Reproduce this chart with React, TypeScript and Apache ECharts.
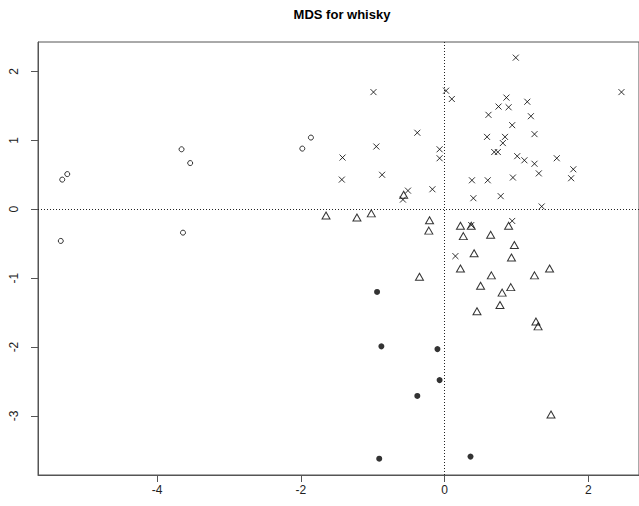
import React, { useEffect, useRef } from "react";
import * as echarts from "echarts";

const title = "MDS for whisky";
const xTicks = [-4, -2, 0, 2];
const yTicks = [-3, -2, -1, 0, 1, 2];

const circles: number[][] = [
  [-5.32, 0.43], [-5.25, 0.51], [-5.34, -0.46], [-3.66, 0.87], [-3.54, 0.67],
  [-3.64, -0.34], [-1.86, 1.04], [-1.98, 0.88],
];

const dots: number[][] = [
  [-0.94, -1.2], [-0.88, -1.99], [-0.1, -2.03], [-0.07, -2.48], [-0.38, -2.71],
  [-0.91, -3.62], [0.36, -3.59],
];

const triangles: number[][] = [
  [-1.65, -0.09], [-1.22, -0.12], [-1.02, -0.06], [-0.21, -0.16], [-0.22, -0.31],
  [-0.35, -0.98], [-0.57, 0.21], [0.22, -0.24], [0.37, -0.24], [0.89, -0.24],
  [0.26, -0.39], [0.64, -0.37], [0.97, -0.52], [0.41, -0.64], [0.93, -0.7],
  [0.22, -0.86], [1.46, -0.86], [0.65, -0.96], [1.25, -0.96], [0.5, -1.11],
  [0.92, -1.13], [0.8, -1.21], [0.77, -1.39], [0.45, -1.48], [1.27, -1.63],
  [1.3, -1.7], [1.48, -2.98],
];

const crosses: number[][] = [
  [-0.99, 1.7], [-0.38, 1.11], [-0.95, 0.91], [-1.42, 0.75], [-0.87, 0.5],
  [-1.43, 0.43], [-0.51, 0.27], [-0.58, 0.14], [-0.17, 0.29], [0.99, 2.2],
  [0.02, 1.72], [0.1, 1.6], [2.46, 1.7], [0.86, 1.62], [0.75, 1.49],
  [0.89, 1.48], [1.15, 1.56], [0.61, 1.37], [1.2, 1.35], [0.94, 1.22],
  [0.59, 1.05], [0.84, 1.05], [1.25, 1.09], [0.81, 0.96], [-0.07, 0.87],
  [-0.07, 0.74], [0.69, 0.83], [0.74, 0.83], [1.01, 0.77], [1.11, 0.71],
  [1.25, 0.66], [1.56, 0.74], [1.79, 0.58], [1.76, 0.45], [1.31, 0.52],
  [0.95, 0.46], [0.38, 0.42], [0.6, 0.42], [0.4, 0.16], [0.78, 0.19],
  [1.35, 0.04], [0.94, -0.17], [0.37, -0.23], [0.15, -0.68],
];

export default function App() {
  const ref = useRef<HTMLDivElement>(null);
  useEffect(() => {
    if (!ref.current) return;
    const chart = echarts.init(ref.current, null, { renderer: "svg" });
    const font = "'Liberation Sans', Arial, sans-serif";
    const axisColor = "#555";
    chart.setOption({
      animation: false,
      title: {
        text: title,
        left: 337,
        textAlign: "center",
        top: 3,
        textStyle: { fontFamily: font, fontSize: 13, fontWeight: "bold", color: "#000" },
      },
      grid: {
        left: 38,
        top: 42,
        right: -1,
        bottom: 31,
        show: true,
        borderColor: axisColor,
        borderWidth: 1,
        backgroundColor: "transparent",
      },
      xAxis: {
        type: "value",
        min: -5.657,
        max: 2.704,
        splitLine: { show: false },
        axisLine: { show: true, onZero: false, lineStyle: { color: axisColor } },
        axisTick: { show: true, inside: false, customValues: xTicks, length: 7, lineStyle: { color: axisColor } },
        axisLabel: {
          customValues: xTicks,
          margin: 9,
          fontSize: 12,
          fontFamily: font,
          color: "#222",
        },
      },
      yAxis: {
        type: "value",
        min: -3.857,
        max: 2.427,
        splitLine: { show: false },
        axisLine: { show: true, onZero: false, lineStyle: { color: axisColor } },
        axisTick: { show: true, inside: false, customValues: yTicks, length: 7, lineStyle: { color: axisColor } },
        axisLabel: {
          customValues: yTicks,
          rotate: 90,
          margin: 18,
          fontSize: 12,
          fontFamily: font,
          color: "#222",
        },
      },
      series: [
        {
          type: "scatter",
          data: circles,
          symbol: "circle",
          symbolSize: 5,
          itemStyle: { color: "none", borderColor: "#000", borderWidth: 1 },
          markLine: {
            silent: true,
            symbol: "none",
            label: { show: false },
            lineStyle: { type: [1, 2], color: "#222", width: 1 },
            data: [{ xAxis: 0 }, { yAxis: 0 }],
          },
        },
        {
          type: "scatter",
          data: dots,
          symbol: "circle",
          symbolSize: 6,
          itemStyle: { color: "#000" },
        },
        {
          type: "scatter",
          data: triangles,
          symbol: "triangle",
          symbolSize: [8, 7],
          itemStyle: { color: "none", borderColor: "#000", borderWidth: 1 },
        },
        {
          type: "scatter",
          data: crosses,
          symbol: "path://M0,0L10,10M10,0L0,10",
          symbolSize: 6,
          itemStyle: { color: "none", borderColor: "#000", borderWidth: 1 },
        },
      ],
    });
    return () => chart.dispose();
  }, []);
  return <div ref={ref} style={{ width: 639, height: 506, position: "absolute", left: 0, top: 0 }} />;
}
